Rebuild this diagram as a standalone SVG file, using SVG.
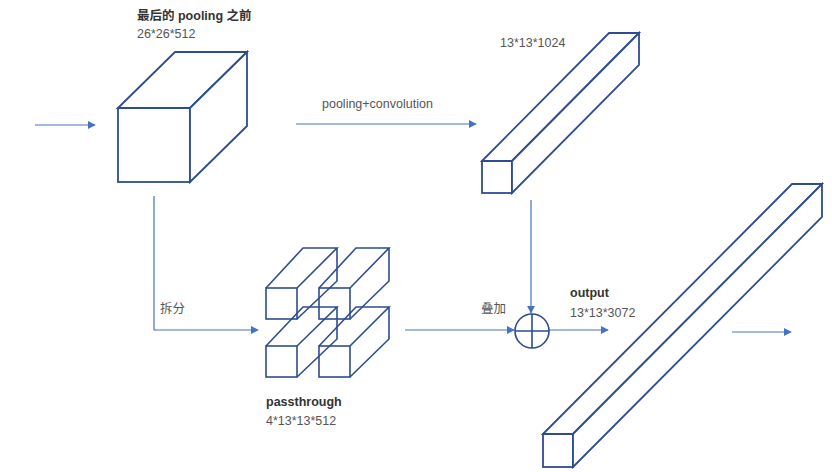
<svg xmlns="http://www.w3.org/2000/svg" width="832" height="472" viewBox="0 0 832 472">
<style>
.sh{fill:#fff;stroke:#2E4D8F;stroke-width:1.8;stroke-linejoin:miter}
.wf{fill:none;stroke:#2E4D8F;stroke-width:1.6}
.cn{fill:none;stroke:#4472C4;stroke-width:1.2}
.b{font-family:"Liberation Sans","Noto Sans CJK SC",sans-serif;font-weight:bold;font-size:12.5px;fill:#333}
.t{font-family:"Liberation Sans","Noto Sans CJK SC",sans-serif;font-size:12.5px;fill:#555}
</style>
<defs>
<marker id="ah" viewBox="0 0 10 10" refX="9" refY="5" markerWidth="8" markerHeight="8" markerUnits="userSpaceOnUse" orient="auto">
<path d="M0,0 L10,5 L0,10 z" fill="#4472C4"/>
</marker>
</defs>
<rect width="832" height="472" fill="#fff"/>

<g id="connectors">
<line class="cn" x1="35" y1="125" x2="95" y2="125" marker-end="url(#ah)"/>
<line class="cn" x1="296" y1="124" x2="476" y2="124" marker-end="url(#ah)"/>
<polyline class="cn" points="154,196 154,330 258,330" marker-end="url(#ah)"/>
<line class="cn" x1="531" y1="200" x2="531" y2="313" marker-end="url(#ah)"/>
<line class="cn" x1="405" y1="330" x2="514" y2="330" marker-end="url(#ah)"/>
<line class="cn" x1="549" y1="330" x2="608" y2="330" marker-end="url(#ah)"/>
<line class="cn" x1="732" y1="332" x2="791" y2="332" marker-end="url(#ah)"/>
<text class="t" x="322" y="108">pooling+convolution</text>
<text class="t" x="160" y="313">拆分</text>
<text class="t" x="481" y="313">叠加</text>
</g>

<g id="cube-before-pooling">
<rect class="sh" x="118" y="108" width="72" height="74"/>
<polygon class="sh" points="118,108 175,52 247,52 190,108"/>
<polygon class="sh" points="190,108 247,52 247,126 190,182"/>
<text class="b" x="137" y="20">最后的 pooling 之前</text>
<text class="t" x="137" y="38">26*26*512</text>
</g>

<g id="bar-1024">
<rect class="sh" x="482" y="161" width="30" height="32"/>
<polygon class="sh" points="482,161 609,33 639,33 512,161"/>
<polygon class="sh" points="512,161 639,33 639,65 512,193"/>
<text class="t" x="500" y="47">13*13*1024</text>
</g>

<g id="passthrough">
<g class="wf">
<rect x="266" y="288" width="31" height="31"/>
<polyline points="266,288 303,248 337,248 297,288"/>
<polyline points="297,319 337,281 337,248"/>
<rect x="319" y="288" width="31" height="31"/>
<polyline points="319,288 356,248 389,248 350,288"/>
<polyline points="350,319 389,281 389,248"/>
<rect x="266" y="346" width="31" height="31"/>
<polyline points="266,346 303,307 337,307 297,346"/>
<polyline points="297,377 337,339 337,307"/>
<rect x="319" y="346" width="31" height="31"/>
<polyline points="319,346 356,307 389,307 350,346"/>
<polyline points="350,377 389,339 389,307"/>
</g>
<text class="b" x="266" y="406">passthrough</text>
<text class="t" x="266" y="425">4*13*13*512</text>
</g>

<g id="add">
<circle cx="532" cy="331" r="17" fill="none" stroke="#2E4D8F" stroke-width="1.6"/>
<line x1="515" y1="331" x2="549" y2="331" stroke="#2E4D8F" stroke-width="1.6"/>
<line x1="532" y1="314" x2="532" y2="348" stroke="#2E4D8F" stroke-width="1.6"/>
</g>

<g id="output">
<rect class="sh" x="543" y="434" width="30" height="33"/>
<polygon class="sh" points="543,434 792,184 822,184 573,434"/>
<polygon class="sh" points="573,434 822,184 822,217 573,467"/>
<text class="b" x="570" y="297">output</text>
<text class="t" x="570" y="317">13*13*3072</text>
</g>
</svg>
